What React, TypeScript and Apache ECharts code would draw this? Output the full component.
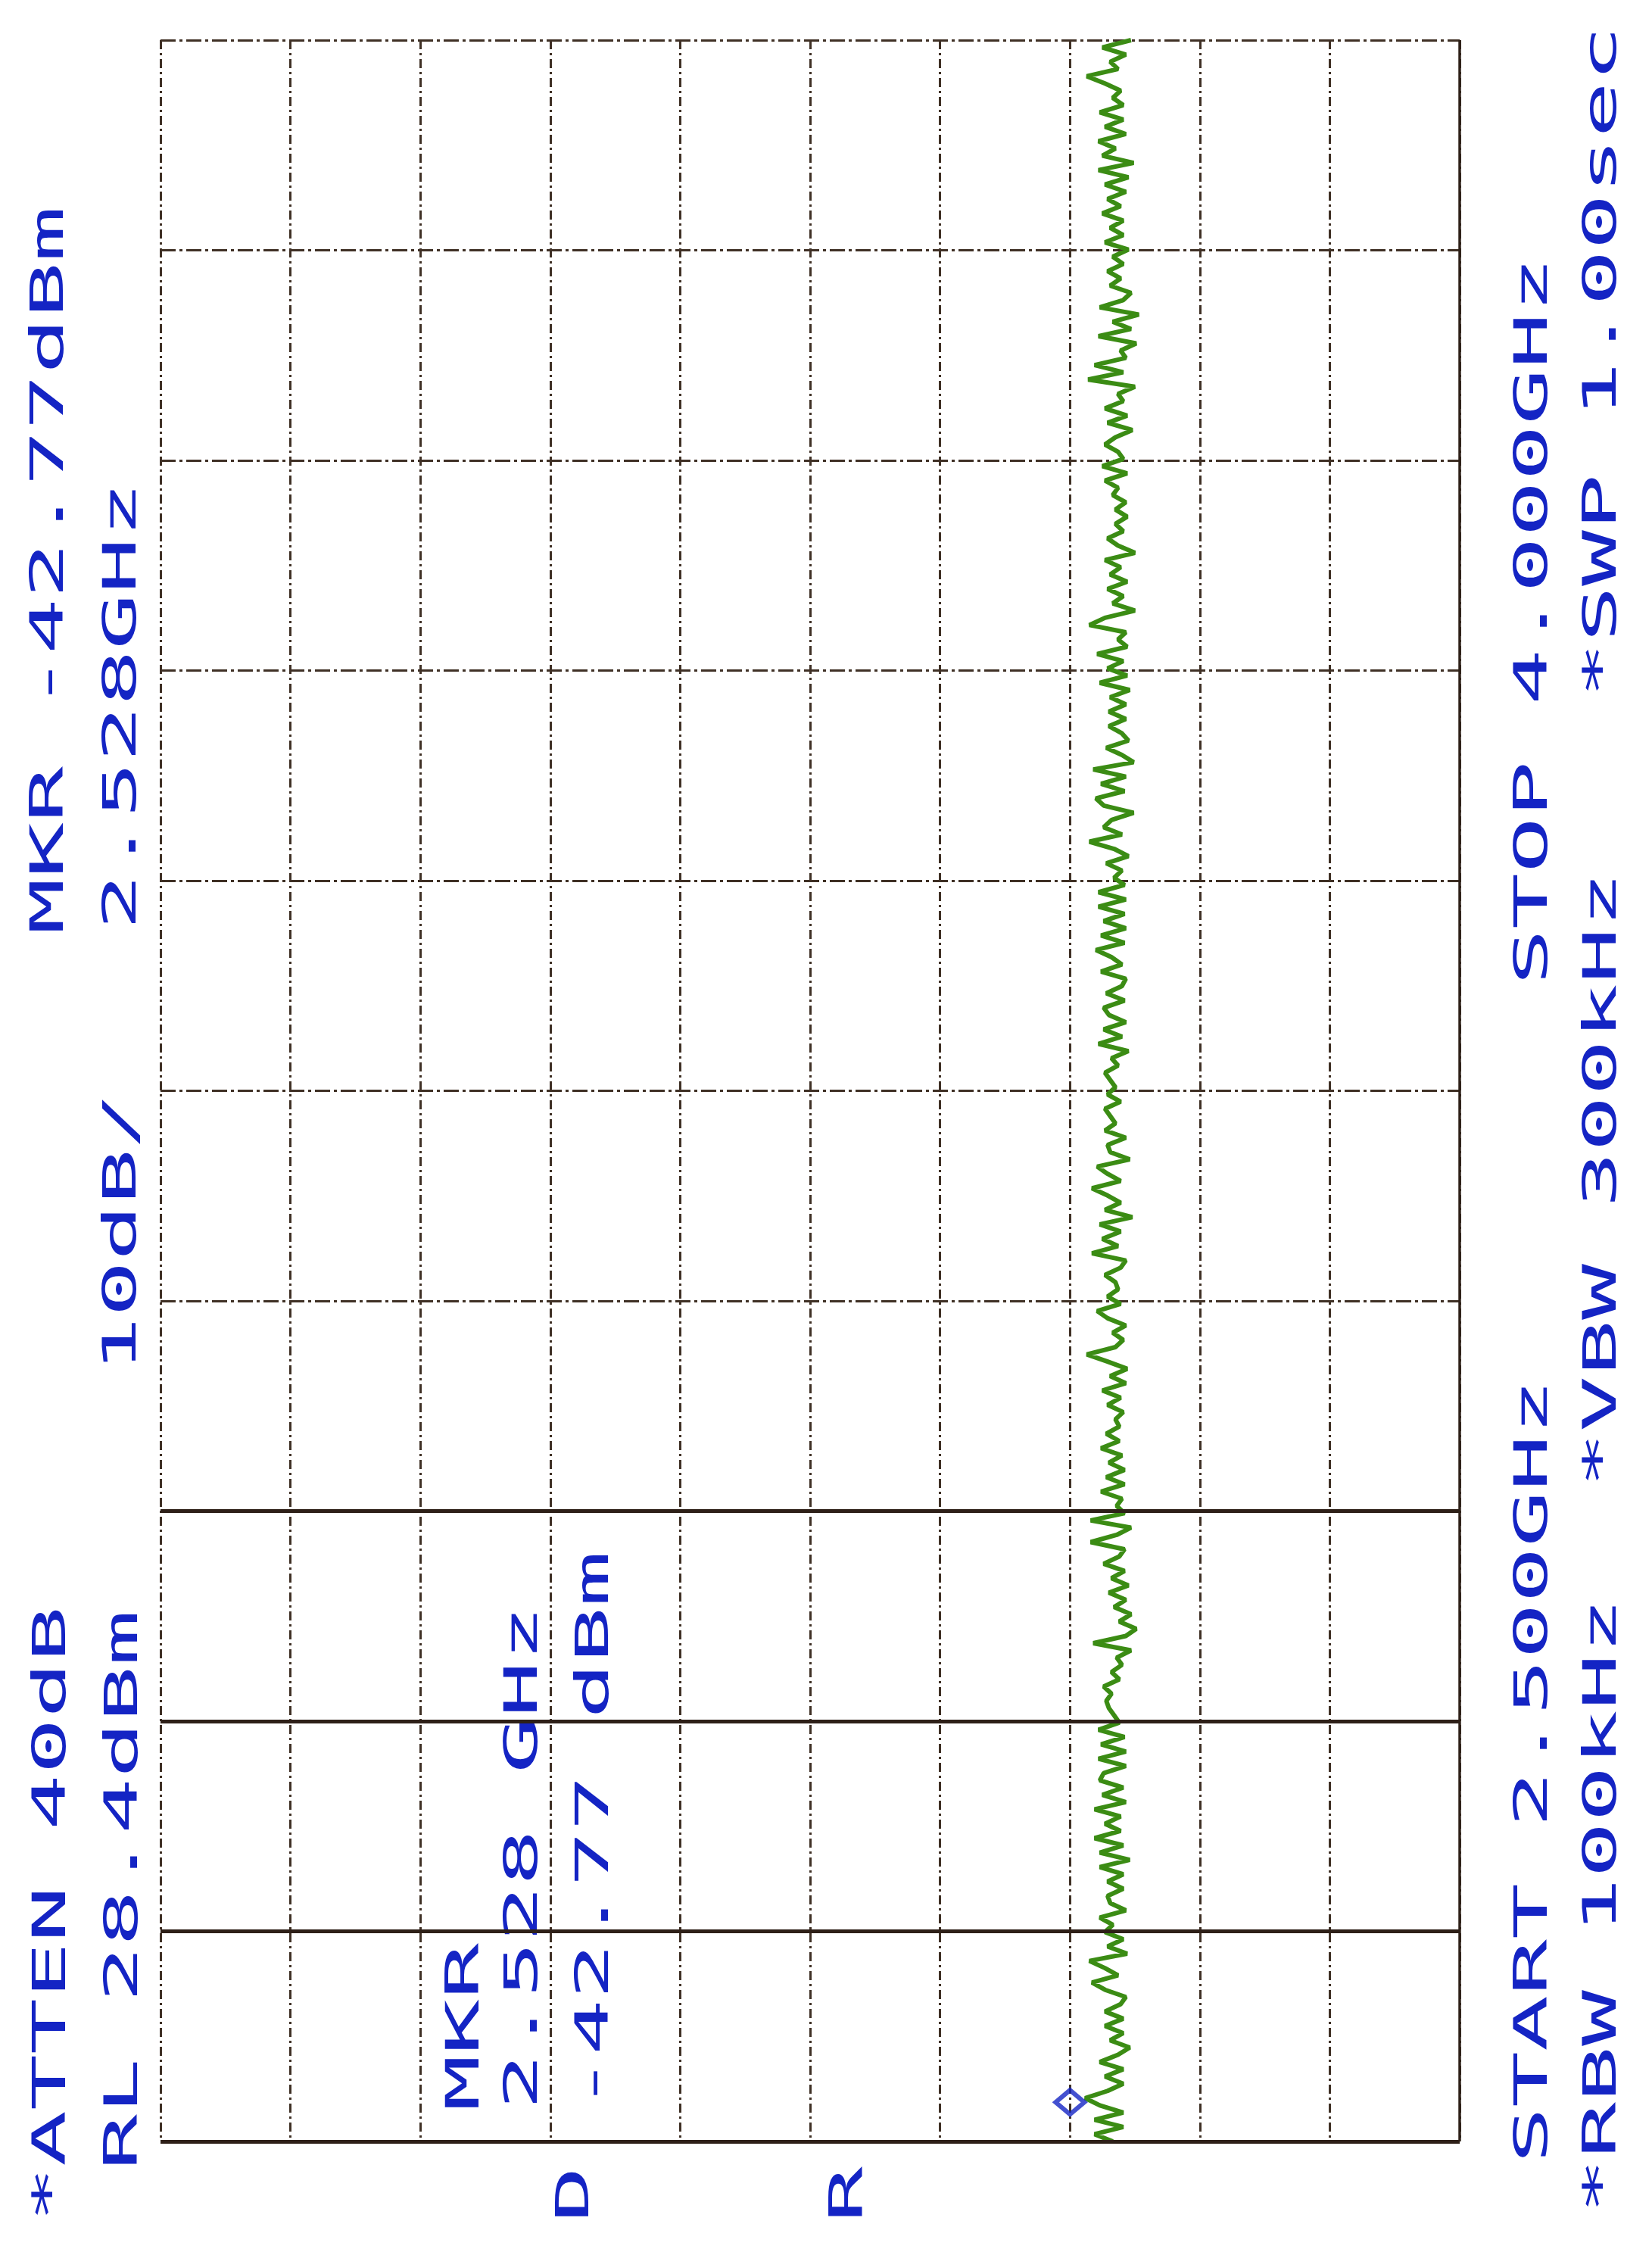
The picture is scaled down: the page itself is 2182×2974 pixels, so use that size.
import React, { useRef, useEffect } from 'react'
import * as echarts from 'echarts'

// sweep settings printed on the plot
const START_GHZ = 2.5
const STOP_GHZ = 4.0
const REF_LEVEL_DBM = 28.4
const DB_PER_DIV = 10
const DIVISIONS = 10

// marker readout
const MARKER_GHZ = 2.528
const MARKER_DBM = -42.77

const traceSeg1 = [
  -44.9, -43.5, -45.7, -43.5, -45.7, -43.9, -42.77, -44.5, -45.7, -44.3,
  -45.7, -43.9, -45.3, -46.2, -44.7, -45.7, -44.3, -45.7, -44.3, -45.5,
  -45.9, -44.3, -43.3, -45.3, -44.3, -43.1, -46.0, -44.5, -45.7, -44.3,
  -44.9, -43.9, -45.9, -44.7, -44.5, -45.7, -44.5, -45.7, -43.9, -46.2,
  -43.9, -45.7, -43.5, -45.5, -44.3, -45.5, -43.5, -45.9, -44.1, -45.7,
  -43.9,
]
const traceSeg2 = [
  -44.2, -45.9, -43.8, -45.9, -44.0, -45.8, -43.8, -45.4, -45.0, -44.6,
  -44.4, -44.8, -44.2, -45.4, -44.8, -45.6, -45.2, -46.3, -43.4, -45.9,
  -46.7, -45.4, -46.3, -45.0, -45.9, -44.6, -46.1, -44.8, -45.8, -44.2,
  -45.4, -45.8, -43.2, -45.2, -46.3, -43.2, -45.8, -45.2, -45.6, -44.0,
  -45.8, -44.4, -45.8, -44.6, -45.6, -44.0, -45.4, -44.4, -45.4,
]
const traceSeg3 = [
  -45.1, -45.7, -44.5, -45.5, -44.1, -45.9, -44.7, -46.0, -44.5, -42.9,
  -45.1, -45.7, -44.9, -45.9, -44.5, -43.7, -45.5, -44.5, -45.3, -45.1,
  -44.3, -45.5, -45.9, -43.3, -45.3, -44.1, -45.5, -43.9, -46.4, -44.3,
  -45.5, -44.5, -43.3, -45.5, -44.5, -43.7, -46.2, -44.7, -44.5, -45.9,
  -44.3, -45.1, -44.7, -44.3, -45.5, -44.5, -45.1, -44.7, -44.3, -45.3,
]
const traceSeg4 = [
  -44.8, -46.1, -43.8, -45.6, -44.2, -45.9, -44.6, -44.2, -45.8, -44.4,
  -45.6, -45.9, -44.0, -45.6, -44.8, -43.6, -45.8, -44.0, -45.9, -44.2,
  -45.8, -43.8, -45.9, -43.8, -45.8, -45.0, -45.6, -44.4, -46.1, -45.0,
  -43.1, -45.6, -44.2, -44.8, -46.5, -44.2, -43.6, -45.8, -44.0, -45.9,
  -43.4, -46.5, -45.6, -44.4, -46.1, -45.6, -44.6, -45.9, -44.6, -45.9,
]
const traceSeg5 = [
  -44.7, -46.2, -43.9, -46.0, -44.5, -45.7, -43.7, -46.0, -45.3, -45.9,
  -43.1, -44.3, -46.6, -44.9, -45.7, -44.5, -46.0, -44.7, -45.5, -44.3,
  -46.6, -45.3, -44.5, -45.7, -45.1, -46.0, -45.1, -45.9, -44.9, -45.3,
  -44.3, -46.0, -44.1, -45.7, -45.3, -44.3, -45.1, -46.4, -44.5, -46.0,
  -44.3, -45.7, -45.3, -46.6, -43.0, -45.7, -43.5, -45.9,
]
const traceSeg6 = [
  -45.5, -46.7, -43.8, -46.3, -44.9, -46.9, -43.9, -45.7, -46.3, -44.7,
  -45.5, -44.5, -45.7, -44.9, -46.1, -44.3, -45.7, -44.7, -45.7, -44.1,
  -45.5, -44.5, -45.9, -44.3, -46.1, -43.8, -46.5, -44.1, -45.1, -43.8,
  -45.9, -44.3, -45.7, -43.9, -45.7, -44.9, -45.5, -44.3, -42.9, -45.3,
  -44.7, -45.9, -44.1, -46.3,
]

// plotter annotations
const TXT_ATTEN = '*ATTEN 40dB'
const TXT_RL = 'RL 28.4dBm'
const TXT_SCALE = '10dB/'
const TXT_MKR_TOP = 'MKR -42.77dBm'
const TXT_MKR_FREQ = '2.528GHz'
const TXT_MKR_IN_1 = 'MKR'
const TXT_MKR_IN_2 = '2.528 GHz'
const TXT_MKR_IN_3 = '-42.77 dBm'
const TXT_D = 'D'
const TXT_R = 'R'
const TXT_START = 'START 2.500GHz'
const TXT_STOP = 'STOP 4.000GHz'
const TXT_RBW = '*RBW 100kHz'
const TXT_VBW = '*VBW 300kHz'
const TXT_SWP = '*SWP 1.00sec'

const BLUE = '#1424c4'
const GREEN = '#3b8c14'
const GRID = '#3f3025'
const GRID_DARK = '#2e2018'

// text drawn rotated (reads bottom to top), fixed pitch like the pen plotter
const FONT_SIZE = 60
const PITCH = 74
function vText(text: string, x: number, y: number) {
  return {
    type: 'text',
    x,
    y,
    rotation: Math.PI / 2,
    scaleX: PITCH / (0.602 * FONT_SIZE),
    scaleY: 1,
    silent: true,
    style: {
      text,
      fill: BLUE,
      fontSize: FONT_SIZE,
      fontFamily: '"DejaVu Sans Mono", monospace',
      align: 'left',
      textAlign: 'left',
      verticalAlign: 'middle',
      textVerticalAlign: 'middle',
    },
  }
}

function SpectrumPlot() {
  const chartRef = useRef(null)

  useEffect(() => {
    document.body.style.margin = '0'
    const chart = echarts.init(chartRef.current, null, { renderer: 'svg' })

    const trace = [...traceSeg1, ...traceSeg2, ...traceSeg3, ...traceSeg4, ...traceSeg5, ...traceSeg6]
    const step = (STOP_GHZ - START_GHZ) / (trace.length - 1)
    const traceData = trace.map((dbm, i) => [dbm, START_GHZ + i * step])
    const freqDiv = (STOP_GHZ - START_GHZ) / DIVISIONS
    const bottomDbm = REF_LEVEL_DBM - DB_PER_DIV * DIVISIONS

    const option = {
      animation: false,
      backgroundColor: '#ffffff',
      grid: { left: 212, right: 254, top: 53, bottom: 146 },
      xAxis: {
        type: 'value',
        inverse: true,
        min: bottomDbm,
        max: REF_LEVEL_DBM,
        interval: DB_PER_DIV,
        axisLabel: { show: false },
        axisTick: { show: false },
        axisLine: { show: false },
        splitLine: { show: true, lineStyle: { color: GRID, width: 3, type: [12, 5, 3, 5] } },
      },
      yAxis: {
        type: 'value',
        min: START_GHZ,
        max: STOP_GHZ,
        interval: freqDiv,
        axisLabel: { show: false },
        axisTick: { show: false },
        axisLine: { show: false },
        splitLine: { show: true, lineStyle: { color: GRID, width: 3, type: [20, 5, 4, 5] } },
      },
      series: [
        {
          type: 'line',
          data: traceData,
          showSymbol: false,
          symbol: 'none',
          lineStyle: { color: GREEN, width: 6 },
          z: 3,
          markLine: {
            silent: true,
            symbol: 'none',
            label: { show: false },
            lineStyle: { color: GRID_DARK, width: 5, type: 'solid' },
            data: [
              { yAxis: START_GHZ },
              { yAxis: START_GHZ + freqDiv },
              { yAxis: START_GHZ + 2 * freqDiv },
              { yAxis: START_GHZ + 3 * freqDiv },
              { xAxis: bottomDbm, lineStyle: { width: 3.5 } },
            ],
          },
        },
        {
          type: 'scatter',
          data: [[MARKER_DBM, MARKER_GHZ]],
          symbol: 'diamond',
          symbolSize: [38, 32],
          symbolOffset: [-20, 0],
          itemStyle: { color: 'rgba(0,0,0,0)', borderColor: BLUE, borderWidth: 6 },
          z: 4,
        },
      ],
      graphic: [
        vText(TXT_ATTEN, 65, 2935),
        vText(TXT_RL, 160, 2866),
        vText(TXT_MKR_TOP, 62, 1234),
        vText(TXT_SCALE, 158, 1813),
        vText(TXT_MKR_FREQ, 158, 1228),
        vText(TXT_MKR_IN_1, 611, 2788),
        vText(TXT_MKR_IN_2, 688, 2786),
        vText(TXT_MKR_IN_3, 782, 2788),
        vText(TXT_D, 756, 2935),
        vText(TXT_R, 1118, 2935),
        vText(TXT_START, 2022, 2857),
        vText(TXT_STOP, 2022, 1301),
        vText(TXT_RBW, 2113, 2924),
        vText(TXT_VBW, 2113, 1965),
        vText(TXT_SWP, 2113, 922),
      ],
    }

    chart.setOption(option)

    return () => {
      chart.dispose()
    }
  }, [])

  return <div ref={chartRef} style={{ width: 2182, height: 2974 }}></div>
}

export default function App() {
  return <SpectrumPlot />
}
